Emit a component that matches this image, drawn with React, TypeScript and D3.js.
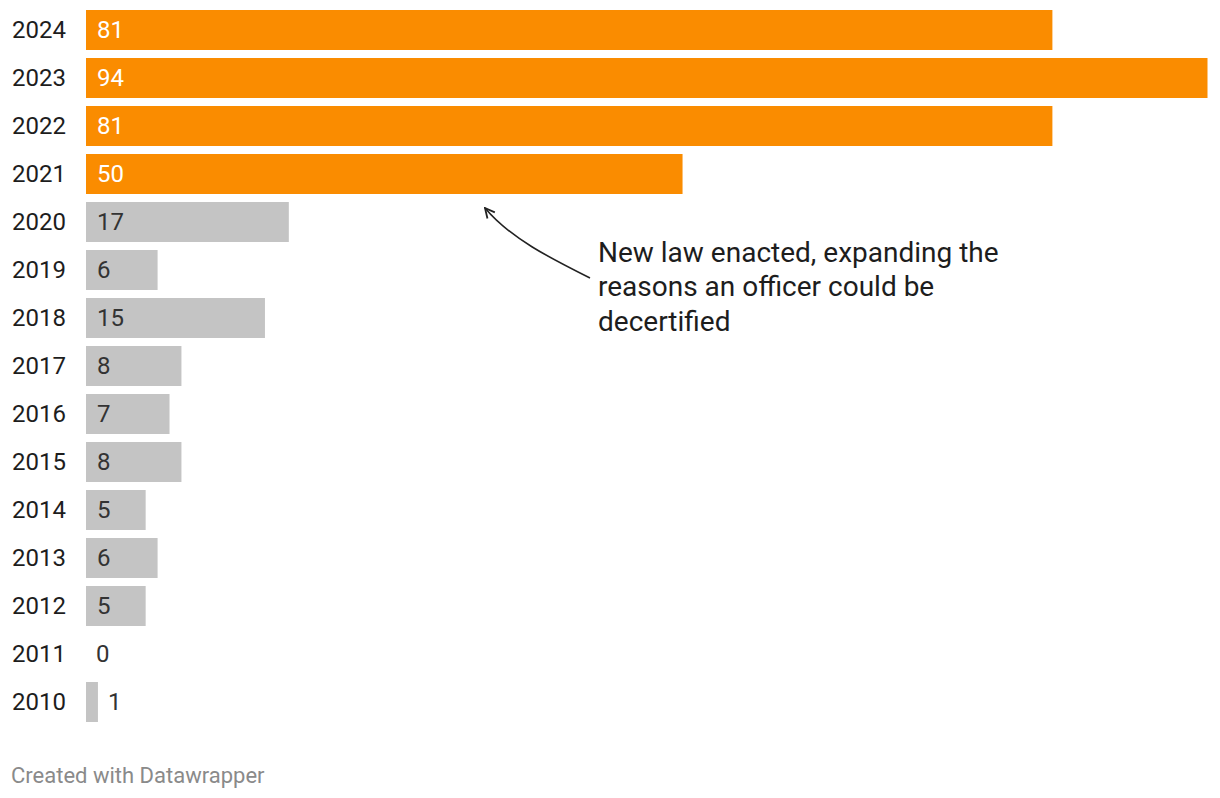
import React from "react";
import * as d3 from "d3";

const years = ["2024","2023","2022","2021","2020","2019","2018","2017","2016","2015","2014","2013","2012","2011","2010"];
const values = [81, 94, 81, 50, 17, 6, 15, 8, 7, 8, 5, 6, 5, 0, 1];
const highlighted = ["2024","2023","2022","2021"];
const annotationLines = ["New law enacted, expanding the", "reasons an officer could be", "decertified"];
const footer = "Created with Datawrapper";

export default function App() {
  const W = 1220, H = 798;
  const x = d3.scaleLinear().domain([0, 94]).range([86, 1207.5]);
  const step = 48;
  const yTop = (i: number) => 10 + i * step;
  const font = "Roboto, sans-serif";
  const arrow = d3.path();
  arrow.moveTo(590, 278);
  arrow.bezierCurveTo(550, 258, 510, 238, 485, 208);
  return (
    <svg width={W} height={H} style={{ position: "absolute", left: 0, top: 0, background: "#fff" }}>
      <defs>
        <marker id="ah" viewBox="0 0 10 10" refX="9" refY="5" markerWidth="12" markerHeight="12" markerUnits="userSpaceOnUse" orient="auto">
          <path d="M1,1 L9,5 L1,9" fill="none" stroke="#222" strokeWidth="1.5" />
        </marker>
      </defs>
      {years.map((yr, i) => {
        const v = values[i];
        const top = yTop(i);
        const cy = top + 20;
        const hi = highlighted.includes(yr);
        const w = x(v) - x(0);
        const inside = w > 40;
        return (
          <g key={yr}>
            <text x={12} y={cy} dy="0.35em" fontFamily={font} fontSize={24} fill="#1d1d1d">{yr}</text>
            {v > 0 && <rect x={x(0)} y={top} width={w} height={40} fill={hi ? "#fa8c00" : "#c4c4c4"} />}
            <text x={inside ? x(0) + 11 : x(v) + 10} y={cy} dy="0.35em" fontFamily={font} fontSize={24}
              fill={hi ? "#ffffff" : "#333333"}>{v}</text>
          </g>
        );
      })}
      <path d={arrow.toString()} fill="none" stroke="#222" strokeWidth={1.6} markerEnd="url(#ah)" />
      {annotationLines.map((l, i) => (
        <text key={i} x={598} y={252 + i * 34.5} dy="0.35em" fontFamily={font} fontSize={28} fill="#1d1d1d">{l}</text>
      ))}
      <text x={11} y={775} dy="0.35em" fontFamily={font} fontSize={22} fill="#8a8a8a">{footer}</text>
    </svg>
  );
}
